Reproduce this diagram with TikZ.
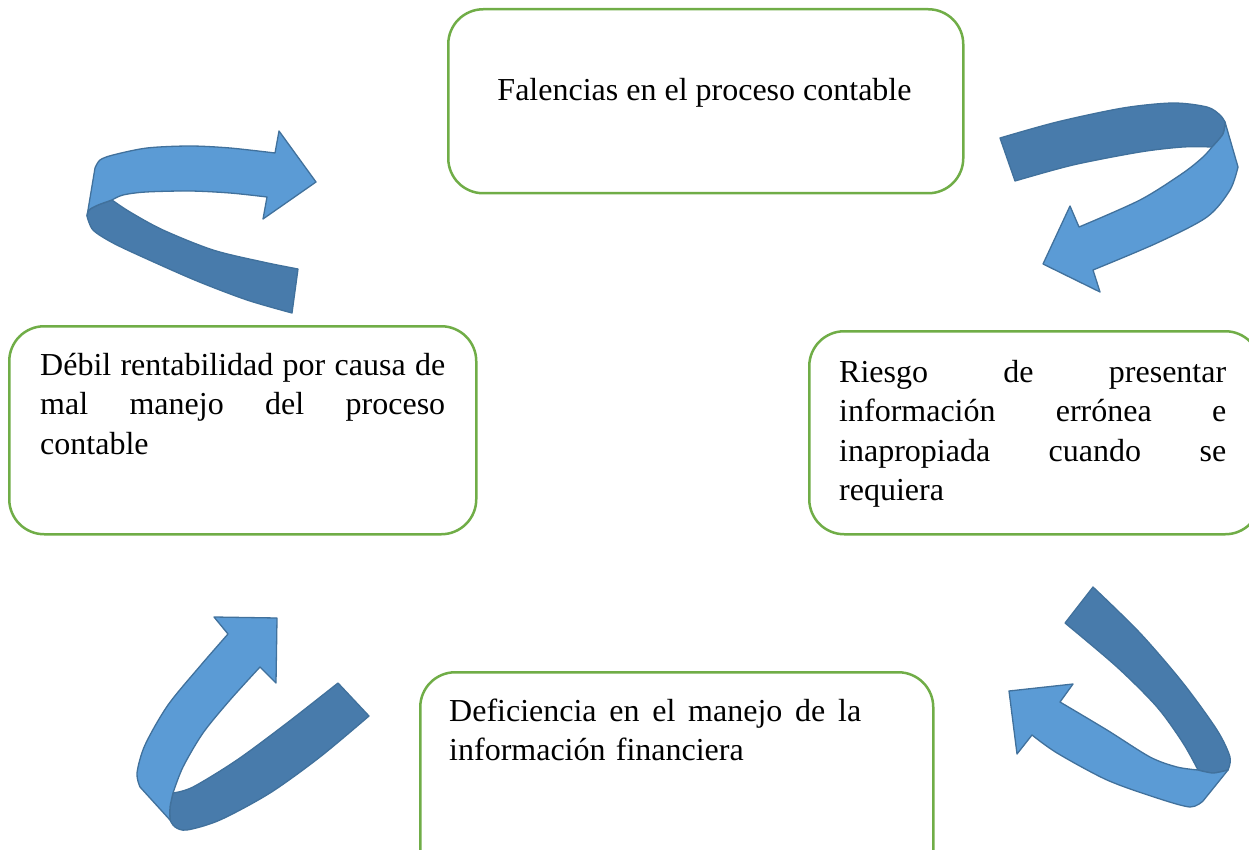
\documentclass[tikz,border=0pt]{standalone}
\usepackage{fontspec}
\setmainfont{Liberation Serif}
\definecolor{boxgreen}{HTML}{70AD47}
\definecolor{arrlight}{HTML}{5B9BD5}
\definecolor{arrdark}{HTML}{487BAB}
\definecolor{arrline}{HTML}{41719C}
\newcommand{\jline}[2]{\leavevmode\hbox to #1{#2}}
\begin{document}
\begin{tikzpicture}[x=1pt,y=-1pt,
  cbox/.style={draw=boxgreen, line width=2.5pt, rounded corners=35pt, fill=white, inner sep=0pt, anchor=north west},
  txtline/.style={inner sep=0pt, font=\fontsize{32}{39.5}\selectfont, anchor=base},
  txtpar/.style={inner sep=0pt, font=\fontsize{32}{39.5}\selectfont, text width=#1, anchor=base west},
  arrfront/.style={fill=arrlight, draw=arrline, line width=1.3pt, line join=round},
  arrback/.style={fill=arrdark, draw=arrline, line width=1.3pt, line join=round}]
\useasboundingbox (0,0) rectangle (1249,850);
\clip (0,0) rectangle (1249,850);

% boxes
\node[cbox, minimum width=515pt, minimum height=184pt] (b1) at (447,8) {};
\node[cbox, minimum width=451pt, minimum height=203pt] (b2) at (808,330) {};
\node[cbox, minimum width=513pt, minimum height=219pt] (b3) at (419,671) {};
\node[cbox, minimum width=467pt, minimum height=208pt] (b4) at (8,325) {};

% texts
\node[txtline] (t1) at (704.5,101) {Falencias en el proceso contable};
\node[txtpar=387pt] (t2) at (839,382) {\jline{387pt}{Riesgo\hfill de\hfill presentar}\\
\jline{387pt}{información\hfill errónea\hfill e}\\
\jline{387pt}{inapropiada\hfill cuando\hfill se}\\
requiera};
\node[txtpar=412pt] (t3) at (449,721) {\jline{412pt}{Deficiencia\hfill en\hfill el\hfill manejo\hfill de\hfill la}\\
información\hspace{0.32em}financiera};
\node[txtpar=405pt] (t4) at (40,375) {\jline{405pt}{Débil\hfill rentabilidad\hfill por\hfill causa\hfill de}\\
\jline{405pt}{mal\hfill manejo\hfill del\hfill proceso}\\
contable};

% arrow 1 (top-left)
\filldraw[arrback] (112,200) -- plot[smooth] coordinates {(112,200) (130,212) (163,230) (213,250) (263,262) (298,269)}
  -- (292,313) -- plot[smooth] coordinates {(292,313) (247,300) (197,281) (147,259) (113,243) (93,230) (87,216)}
  -- plot[smooth] coordinates {(87,216) (89,210) (98,205) (112,200)} -- cycle;
\filldraw[arrfront] (87,216) -- (95,168) -- plot[smooth] coordinates {(95,168) (100,160) (113,155) (147,148) (190,146) (230,148) (275,153)}
  -- (279,131) -- (316,182) -- (263,219) -- (267,197)
  -- plot[smooth] coordinates {(267,197) (230,193) (190,191) (146,192) (123,195) (112,200)}
  -- plot[smooth] coordinates {(112,200) (98,205) (89,210) (87,216)} -- cycle;

% arrow 2 (top-right)
\filldraw[arrback] (1000,138) -- plot[smooth] coordinates {(1000,138) (1057,122) (1123,108) (1173,103) (1207,107) (1220,115) (1225,122)}
  -- plot[smooth] coordinates {(1225,122) (1223,134) (1212,147)}
  -- plot[smooth] coordinates {(1212,147) (1183,147) (1140,152) (1073,165) (1015,181)} -- cycle;
\filldraw[arrfront] (1225,122) -- (1238,167) -- plot[smooth] coordinates {(1238,167) (1230,190) (1207,217) (1157,243) (1093,270)}
  -- (1100,292) -- (1043,264) -- (1070,206) -- (1079,227)
  -- plot[smooth] coordinates {(1079,227) (1140,200) (1183,173) (1203,157) (1212,147)}
  -- plot[smooth] coordinates {(1212,147) (1223,134) (1225,122)} -- cycle;

% arrow 3 (bottom-right)
\filldraw[arrback] (1093,587) -- plot[smooth] coordinates {(1093,587) (1140,633) (1183,683) (1217,730) (1230,757) (1228,770)}
  -- plot[smooth] coordinates {(1228,770) (1213,773) (1198,770)}
  -- plot[smooth] coordinates {(1198,770) (1183,743) (1157,707) (1117,667) (1065,623)} -- cycle;
\filldraw[arrfront] (1228,770) -- (1203,801) -- plot[smooth] coordinates {(1203,801) (1190,807) (1157,798) (1107,780) (1057,753) (1032,735)}
  -- (1017,754) -- (1009,691) -- (1073,684) -- (1060,702)
  -- plot[smooth] coordinates {(1060,702) (1107,730) (1150,757) (1177,767) (1198,770)}
  -- plot[smooth] coordinates {(1198,770) (1213,773) (1228,770)} -- cycle;

% arrow 4 (bottom-left)
\filldraw[arrback] (338,683) -- (369,716) -- plot[smooth] coordinates {(369,716) (320,757) (270,793) (220,820) (187,830) (175,827) (170,820)}
  -- plot[smooth] coordinates {(170,820) (170,807) (173,793)}
  -- plot[smooth] coordinates {(173,793) (193,787) (237,760) (287,723) (338,683)} -- cycle;
\filldraw[arrfront] (170,820) -- (140,787) -- plot[smooth] coordinates {(140,787) (137,773) (145,745) (168,705) (201,665) (228,634)}
  -- (214,617) -- (277,618) -- (276,683) -- (260,667)
  -- plot[smooth] coordinates {(260,667) (230,700) (203,733) (183,767) (173,793)}
  -- plot[smooth] coordinates {(173,793) (170,807) (170,820)} -- cycle;
\end{tikzpicture}
\end{document}
